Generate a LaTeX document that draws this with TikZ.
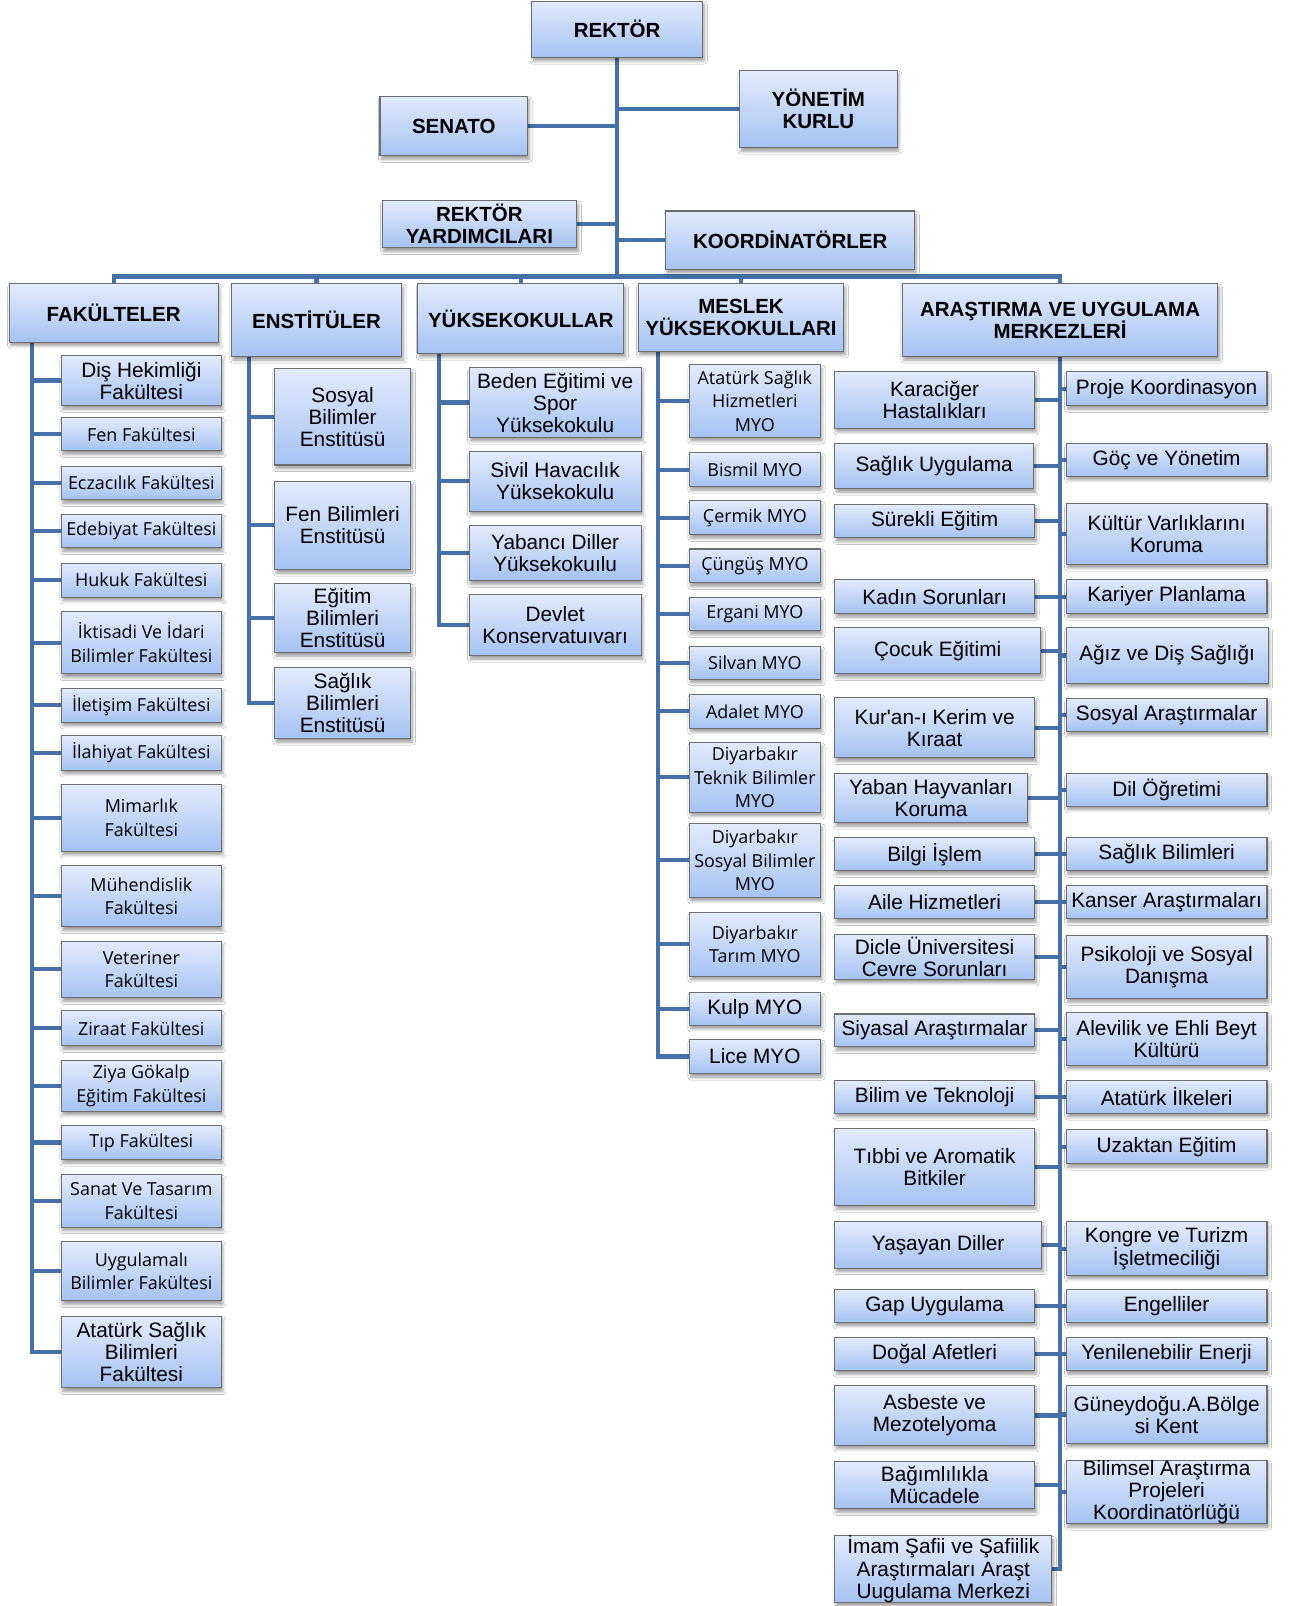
\documentclass[tikz,border=0pt]{standalone}
\usepackage{fontspec}
\setmainfont{Liberation Sans}
\newfontfamily\hum{Open Sans}
\usetikzlibrary{shadows.blur,backgrounds}
\definecolor{linec}{HTML}{4670A8}
\definecolor{boxtop}{HTML}{E2EBFC}
\definecolor{boxbot}{HTML}{A5C2F3}
\definecolor{boxdraw}{HTML}{6E6E6E}
\tikzset{
 box/.style={draw=boxdraw, line width=1pt, top color=boxtop, bottom color=boxbot, inner sep=0pt, align=center,
   blur shadow={shadow xshift=1.5pt, shadow yshift=-3.5pt, shadow blur steps=6, shadow blur radius=3pt, shadow opacity=40}},
 hdr/.style={box, font=\fontsize{20}{21.5}\selectfont\bfseries},
 ar/.style={box, font=\fontsize{20.3}{21.5}\selectfont},
 hu/.style={box, font=\hum\fontsize{17.5}{23}\selectfont},
 conn/.style={draw=linec, line width=4pt, line cap=rect},
}
\newcommand\bx[7]{\node[#6, minimum width={(#4-#2)*1pt}, minimum height={(#5-#3)*1pt}] (#1) at ({(#2+#4)/2},{(#3+#5)/2}) {#7};}
\newcommand\straightq{{\XeTeXglyph\XeTeXcharglyph"0027\relax}}
\begin{document}
\begin{tikzpicture}[x=1pt,y=-1pt]
\useasboundingbox (0,0) rectangle (1259,1568);
% top
\bx{rektor}{519}{1}{686}{56}{hdr}{REKTÖR}
\bx{senato}{371}{94}{515}{152}{hdr}{SENATO}
\bx{yonetim}{722}{69}{876}{144}{hdr}{YÖNETİM\\KURLU}
\bx{ryard}{373}{196}{563}{242}{hdr}{REKTÖR\\YARDIMCILARI}
\bx{koord}{650}{206}{893}{263}{hdr}{KOORDİNATÖRLER}
% headers
\bx{fak}{9}{277}{213}{334}{hdr}{FAKÜLTELER}
\bx{ens}{226}{277}{392}{348}{hdr}{ENSTİTÜLER}
\bx{yuk}{408}{277}{609}{345}{hdr}{YÜKSEKOKULLAR}
\bx{myo}{623}{277}{824}{343}{hdr}{MESLEK\\YÜKSEKOKULLARI}
\bx{ars}{881}{277}{1189}{348}{hdr}{ARAŞTIRMA VE UYGULAMA\\MERKEZLERİ}
% faculties
\bx{f1}{60}{347}{216}{396}{ar}{Diş Hekimliği\\Fakültesi}
\bx{f2}{60}{408}{216}{440}{hu}{Fen Fakültesi}
\bx{f3}{60}{455}{216}{488}{hu}{Eczacılık Fakültesi}
\bx{f4}{60}{502}{216}{535}{hu}{Edebiyat Fakültesi}
\bx{f5}{60}{550}{216}{583}{hu}{Hukuk Fakültesi}
\bx{f6}{60}{597}{216}{658}{hu}{İktisadi Ve İdari\\Bilimler Fakültesi}
\bx{f7}{60}{672}{216}{705}{hu}{İletişim Fakültesi}
\bx{f8}{60}{718}{216}{752}{hu}{İlahiyat Fakültesi}
\bx{f9}{60}{766}{216}{831}{hu}{Mimarlık\\Fakültesi}
\bx{f10}{60}{845}{216}{905}{hu}{Mühendislik\\Fakültesi}
\bx{f11}{60}{919}{216}{974}{hu}{Veteriner\\Fakültesi}
\bx{f12}{60}{987}{216}{1021}{hu}{Ziraat Fakültesi}
\bx{f13}{60}{1035}{216}{1085}{hu}{Ziya Gökalp\\Eğitim Fakültesi}
\bx{f14}{60}{1099}{216}{1132}{hu}{Tıp Fakültesi}
\bx{f15}{60}{1147}{216}{1198}{hu}{Sanat Ve Tasarım\\Fakültesi}
\bx{f16}{60}{1212}{216}{1270}{hu}{Uygulamalı\\Bilimler Fakültesi}
\bx{f17}{60}{1285}{216}{1355}{ar}{Atatürk Sağlık\\Bilimleri\\Fakültesi}
% institutes
\bx{e1}{268}{360}{401}{454}{ar}{Sosyal\\Bilimler\\Enstitüsü}
\bx{e2}{268}{470}{401}{556}{ar}{Fen Bilimleri\\Enstitüsü}
\bx{e3}{268}{570}{401}{637}{ar}{Eğitim\\Bilimleri\\Enstitüsü}
\bx{e4}{268}{652}{401}{721}{ar}{Sağlık\\Bilimleri\\Enstitüsü}
% schools
\bx{y1}{458}{359}{626}{427}{ar}{Beden Eğitimi ve\\Spor\\Yüksekokulu}
\bx{y2}{458}{441}{626}{499}{ar}{Sivil Havacılık\\Yüksekokulu}
\bx{y3}{458}{513}{626}{567}{ar}{Yabancı Diller\\Yüksekokuılu}
\bx{y4}{458}{580}{626}{640}{ar}{Devlet\\Konservatuıvarı}
% vocational
\bx{m1}{673}{356}{801}{427}{hu}{Atatürk Sağlık\\Hizmetleri\\MYO}
\bx{m2}{673}{442}{801}{475}{hu}{Bismil MYO}
\bx{m3}{673}{489}{801}{522}{hu}{Çermik MYO}
\bx{m4}{673}{536}{801}{569}{hu}{Çüngüş MYO}
\bx{m5}{673}{583}{801}{616}{hu}{Ergani MYO}
\bx{m6}{673}{631}{801}{663}{hu}{Silvan MYO}
\bx{m7}{673}{678}{801}{711}{hu}{Adalet MYO}
\bx{m8}{673}{725}{801}{793}{hu}{Diyarbakır\\Teknik Bilimler\\MYO}
\bx{m9}{673}{804}{801}{876}{hu}{Diyarbakır\\Sosyal Bilimler\\MYO}
\bx{m10}{673}{891}{801}{953}{hu}{Diyarbakır\\Tarım MYO}
\bx{m11}{673}{969}{801}{1001}{ar}{Kulp MYO}
\bx{m12}{673}{1015}{801}{1048}{ar}{Lice MYO}
% research left
\bx{l1}{815}{363}{1010}{418}{ar}{Karaciğer\\Hastalıkları}
\bx{l2}{815}{433}{1009}{477}{ar}{Sağlık Uygulama}
\bx{l3}{815}{493}{1010}{525}{ar}{Sürekli Eğitim}
\bx{l4}{815}{566}{1010}{599}{ar}{Kadın Sorunları}
\bx{l5}{815}{613}{1016}{658}{ar}{Çocuk Eğitimi}
\bx{l6}{815}{681}{1010}{740}{ar}{Kur\straightq an-ı Kerim ve\\Kıraat}
\bx{l7}{815}{755}{1003}{803}{ar}{Yaban Hayvanları\\Koruma}
\bx{l8}{815}{818}{1010}{850}{ar}{Bilgi İşlem}
\bx{l9}{815}{865}{1010}{897}{ar}{Aile Hizmetleri}
\bx{l10}{815}{912}{1010}{956}{ar}{Dicle Üniversitesi\\Cevre Sorunları}
\bx{l11}{815}{990}{1010}{1022}{ar}{Siyasal Araştırmalar}
\bx{l12}{815}{1055}{1010}{1087}{ar}{Bilim ve Teknoloji}
\bx{l13}{815}{1102}{1010}{1177}{ar}{Tıbbi ve Aromatik\\Bitkiler}
\bx{l14}{815}{1193}{1017}{1238}{ar}{Yaşayan Diller}
\bx{l15}{815}{1259}{1010}{1291}{ar}{Gap Uygulama}
\bx{l16}{815}{1306}{1010}{1338}{ar}{Doğal Afetleri}
\bx{l17}{815}{1353}{1010}{1411}{ar}{Asbeste ve\\Mezotelyoma}
\bx{l18}{815}{1427}{1010}{1473}{ar}{Bağımlılıkla\\Mücadele}
\bx{l19}{815}{1500}{1027}{1564}{ar}{İmam Şafii ve Şafiilik\\Araştırmaları Araşt\\Uugulama Merkezi}
% research right
\bx{r1}{1041}{363}{1237}{396}{ar}{Proje Koordinasyon}
\bx{r2}{1041}{433}{1237}{465}{ar}{Göç ve Yönetim}
\bx{r3}{1041}{492}{1237}{551}{ar}{Kültür Varlıklarını\\Koruma}
\bx{r4}{1041}{566}{1237}{599}{ar}{Kariyer Planlama}
\bx{r5}{1041}{613}{1238}{667}{ar}{Ağız ve Diş Sağlığı}
\bx{r6}{1041}{682}{1237}{714}{ar}{Sosyal Araştırmalar}
\bx{r7}{1041}{755}{1237}{787}{ar}{Dil Öğretimi}
\bx{r8}{1041}{818}{1237}{850}{ar}{Sağlık Bilimleri}
\bx{r9}{1041}{865}{1237}{897}{ar}{Kanser Araştırmaları}
\bx{r10}{1041}{913}{1237}{975}{ar}{Psikoloji ve Sosyal\\Danışma}
\bx{r11}{1041}{989}{1237}{1040}{ar}{Alevilik ve Ehli Beyt\\Kültürü}
\bx{r12}{1041}{1055}{1237}{1087}{ar}{Atatürk İlkeleri}
\bx{r13}{1041}{1103}{1237}{1136}{ar}{Uzaktan Eğitim}
\bx{r14}{1041}{1193}{1237}{1245}{ar}{Kongre ve Turizm\\İşletmeciliği}
\bx{r15}{1041}{1259}{1237}{1291}{ar}{Engelliler}
\bx{r16}{1041}{1306}{1237}{1338}{ar}{Yenilenebilir Enerji}
\bx{r17}{1041}{1353}{1237}{1409}{ar}{Güneydoğu.A.Bölge\\si Kent}
\bx{r18}{1041}{1427}{1237}{1486}{ar}{Bilimsel Araştırma\\Projeleri\\Koordinatörlüğü}
% coordinates
\coordinate (busL) at (110,270);
\coordinate (fakT) at (31,334);
\coordinate (ensT) at (243,348);
\coordinate (yukT) at (429,345);
\coordinate (myoT) at (642,343);
\begin{pgfonlayer}{background}
\fill[white] (0,0) rectangle (1259,1568);
\draw[conn] (rektor.south) -- (rektor.south |- busL);
\draw[conn] (senato.east) -- (senato.east -| rektor.south);
\draw[conn] (yonetim.west) -- (yonetim.west -| rektor.south);
\draw[conn] (ryard.east) -- (ryard.east -| rektor.south);
\draw[conn] (koord.west) -- (koord.west -| rektor.south);
\draw[conn] (fak.north) -- (fak.north |- busL) -- (ars.north |- busL) -- (ars.north);
\draw[conn] (ens.north) -- (ens.north |- busL);
\draw[conn] (yuk.north) -- (yuk.north |- busL);
\draw[conn] (myo.north) -- (myo.north |- busL);
% faculties
\draw[conn] (fakT) |- (f17.west);
\foreach \i in {1,...,16} \draw[conn] (f\i.west) -- (f\i.west -| fakT);
% institutes
\draw[conn] (ensT) |- (e4.west);
\foreach \i in {1,2,3} \draw[conn] (e\i.west) -- (e\i.west -| ensT);
% schools
\draw[conn] (yukT) |- (y4.west);
\foreach \i in {1,2,3} \draw[conn] (y\i.west) -- (y\i.west -| yukT);
% vocational
\draw[conn] (myoT) |- (m12.west);
\foreach \i in {1,...,11} \draw[conn] (m\i.west) -- (m\i.west -| myoT);
% research
\draw[conn] (ars.south) |- (l19.east);
\foreach \i in {1,...,18} \draw[conn] (l\i.east) -- (l\i.east -| ars.south);
\foreach \i in {1,...,18} \draw[conn] (r\i.west) -- (r\i.west -| ars.south);
\end{pgfonlayer}
\end{tikzpicture}
\end{document}
